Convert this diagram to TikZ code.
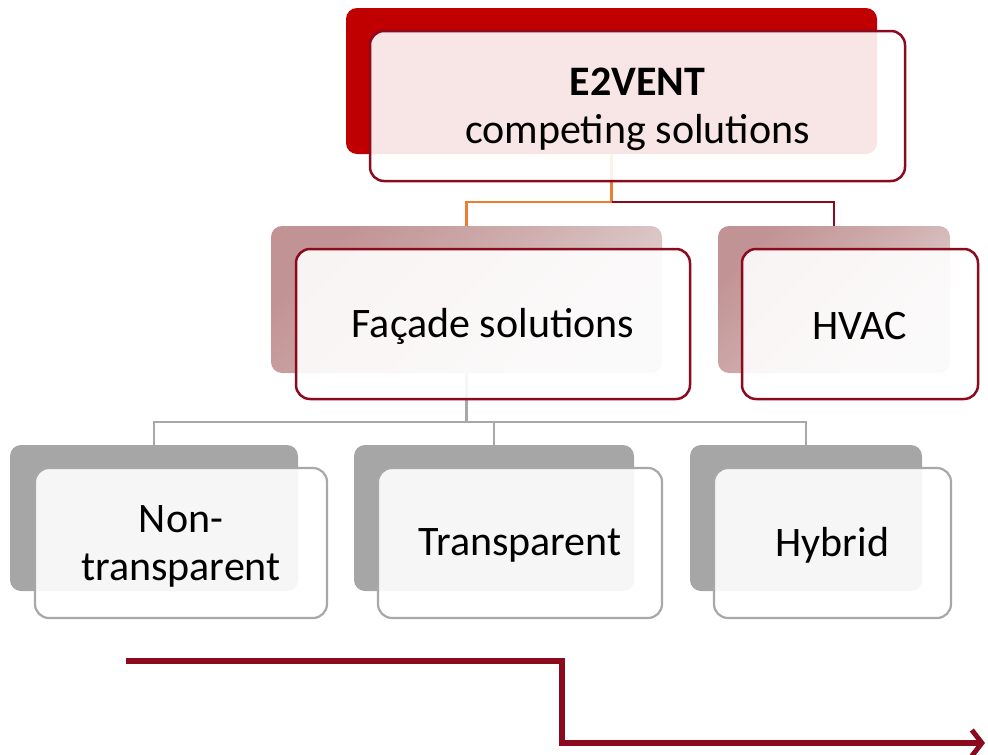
\documentclass[tikz,border=0pt]{standalone}
\usepackage{fontspec}
\setmainfont{Carlito}
\usetikzlibrary{arrows.meta}
\definecolor{topred}{RGB}{192,0,0}
\definecolor{wine}{RGB}{139,10,30}
\definecolor{rosedark}{RGB}{194,147,148}
\definecolor{roselight}{RGB}{224,208,208}
\definecolor{greyback}{RGB}{166,166,166}
\definecolor{greyline}{RGB}{168,168,168}
\definecolor{linkorange}{RGB}{237,125,49}
\begin{document}
\begin{tikzpicture}[x=1pt,y=-1pt,
  box/.style={rectangle,inner sep=0pt,outer sep=0pt},
  backred/.style={box,fill=topred,rounded corners=11pt},
  backrose/.style={box,rounded corners=11pt,top color=rosedark,bottom color=roselight,middle color=rosedark!55!roselight,shading angle=45},
  backgrey/.style={box,fill=greyback,rounded corners=11pt},
  frontbox/.style={box,fill=white,fill opacity=0.9,text opacity=1,rounded corners=14pt,
    font=\fontsize{42}{48}\selectfont,align=center},
  frontred/.style={frontbox,draw=wine,line width=2.5pt},
  frontgrey/.style={frontbox,draw=greyline,line width=2.2pt},
  linkline/.style={line width=2.5pt},
  greylink/.style={line width=2.5pt,draw=greyline},
  label/.style={inner sep=0pt,font=\fontsize{42}{48}\selectfont,align=center},
]
\useasboundingbox (0,0) rectangle (988,755);

% shadow-like back plates
\node[backred,minimum width=531pt,minimum height=146pt] (topB) at (611.5,81) {};
\node[backrose,minimum width=391pt,minimum height=147pt] (facB) at (466.5,299.5) {};
\node[backrose,minimum width=232pt,minimum height=147pt] (hvacB) at (834,299.5) {};
\node[backgrey,minimum width=288pt,minimum height=146pt] (nonB) at (154,518) {};
\node[backgrey,minimum width=280pt,minimum height=146pt] (traB) at (494,518) {};
\node[backgrey,minimum width=232pt,minimum height=146pt] (hybB) at (806,518) {};

% connectors, level 1
\coordinate (j1) at (611.5,202);
\draw[linkline,draw=linkorange] (topB.south) -- (j1) -| (facB.north);
\draw[linkline,draw=wine] (j1) -| (hvacB.north);

% connectors, level 2
\coordinate (j2) at (466.5,422);
\draw[greylink] (facB.south) -- (j2);
\draw[greylink] (j2) -| (nonB.north);
\draw[greylink] (j2) -| (hybB.north);
\draw[greylink] (traB.north) -- (traB.north |- j2);

% front cards
\node[frontred,minimum width=535pt,minimum height=150pt] (topF) at (637.5,106) {};
\node[frontred,minimum width=394pt,minimum height=150pt] (facF) at (493,324) {};
\node[frontred,minimum width=236pt,minimum height=150pt] (hvacF) at (860,324) {};
\node[frontgrey,minimum width=292pt,minimum height=150pt] (nonF) at (181,543) {};
\node[frontgrey,minimum width=284pt,minimum height=150pt] (traF) at (520,543) {};
\node[frontgrey,minimum width=237pt,minimum height=150pt] (hybF) at (832.5,543) {};

% card texts, set slightly below the card centres
\node[label] (topT) at ([yshift=-3pt]topF.center) {\textbf{E2VENT}\\competing solutions};
\node[label] (facT) at ([yshift=-2pt]facF.center) {Façade solutions};
\node[label] (hvacT) at ([yshift=-2pt]hvacF.center) {HVAC};
\node[label] (nonT) at ([yshift=-3pt]nonF.center) {Non-\\transparent};
\node[label] (traT) at ([yshift=-2pt]traF.center) {Transparent};
\node[label] (hybT) at ([yshift=-2pt]hybF.center) {Hybrid};

% stepped arrow
\coordinate (s0) at (126,661);
\coordinate (s1) at (562,661);
\coordinate (s2) at (562,743);
\coordinate (s3) at (985,743);
\draw[wine,line width=6pt,-{Straight Barb[length=10pt,width=26pt,line width=5pt]}]
  (s0) -- (s1) -- (s2) -- (s3);
\end{tikzpicture}
\end{document}
